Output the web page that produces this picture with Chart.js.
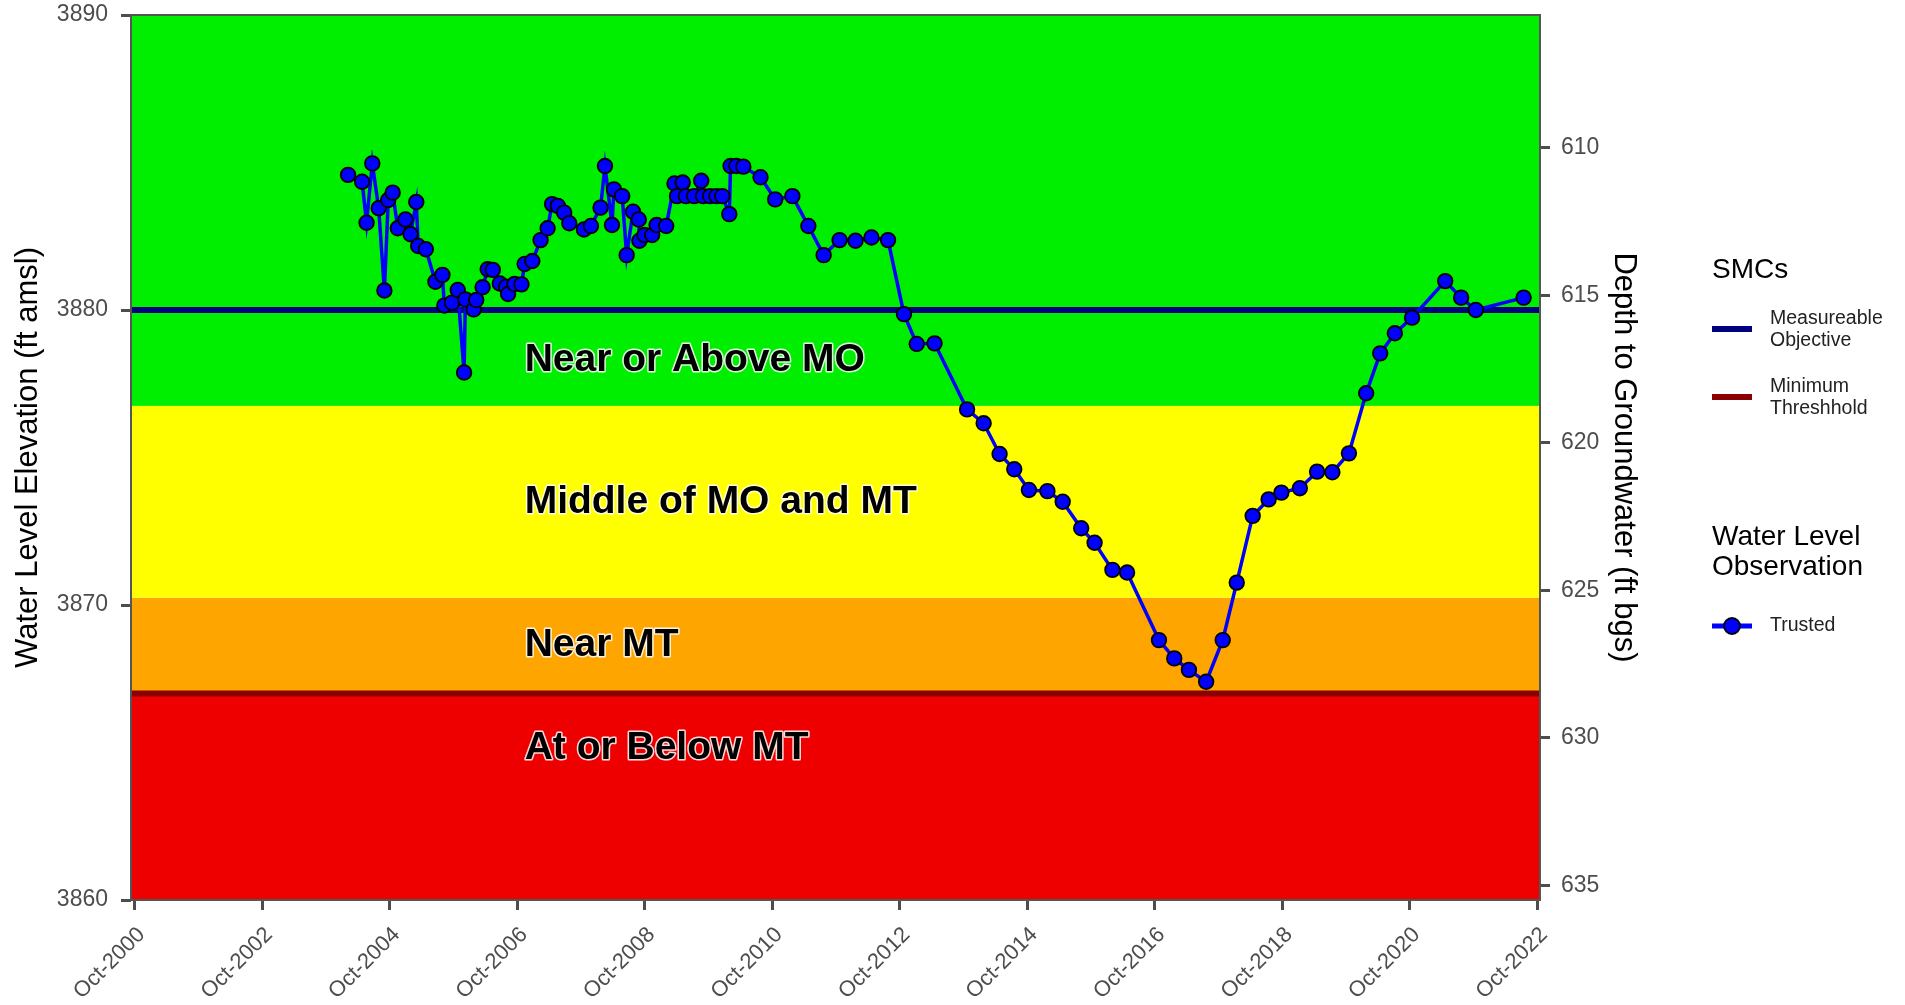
<!DOCTYPE html>
<html>
<head>
<meta charset="utf-8">
<script src="https://cdn.jsdelivr.net/npm/chart.js@4.4.1/dist/chart.umd.min.js"></script>
<style>
  html, body { margin: 0; padding: 0; background: #fff; }
  #wrap { width: 1905px; height: 1005px; }
</style>
</head>
<body>
<div id="wrap"><canvas id="wlChart"></canvas></div>
<script>
// Water level observations (decimal year, ft amsl)
const obsDates = [
  2004.10, 2004.32, 2004.39, 2004.48, 2004.58, 2004.67, 2004.73, 2004.80, 2004.88, 2005.00,
  2005.08, 2005.17, 2005.20, 2005.32, 2005.47, 2005.58, 2005.61, 2005.73, 2005.82, 2005.92,
  2005.94, 2006.07, 2006.11, 2006.21, 2006.29, 2006.37, 2006.48, 2006.58, 2006.61, 2006.71,
  2006.82, 2006.87, 2006.99, 2007.12, 2007.23, 2007.30, 2007.39, 2007.49, 2007.57, 2007.80,
  2007.91, 2008.06, 2008.13, 2008.24, 2008.27, 2008.40, 2008.47, 2008.57, 2008.66, 2008.67,
  2008.75, 2008.87, 2008.94, 2009.09, 2009.22, 2009.26, 2009.35, 2009.40, 2009.53, 2009.64,
  2009.67, 2009.78, 2009.88, 2009.97, 2010.08, 2010.10, 2010.19, 2010.30, 2010.57, 2010.80,
  2011.07, 2011.32, 2011.56, 2011.81, 2012.06, 2012.31, 2012.57, 2012.82, 2013.02, 2013.30,
  2013.81, 2014.07, 2014.32, 2014.55, 2014.78, 2015.07, 2015.31, 2015.60, 2015.81, 2016.09,
  2016.32, 2016.82, 2017.06, 2017.29, 2017.56, 2017.82, 2018.04, 2018.29, 2018.54, 2018.74,
  2019.03, 2019.30, 2019.54, 2019.80, 2020.07, 2020.29, 2020.52, 2020.79, 2021.31, 2021.56,
  2021.79, 2022.54
];
const obsLevels = [
  3884.58, 3884.35, 3882.96, 3884.97, 3883.45, 3880.66, 3883.73, 3883.98, 3882.77, 3883.07,
  3882.57, 3883.66, 3882.17, 3882.06, 3880.96, 3881.19, 3880.15, 3880.25, 3880.68, 3877.88,
  3880.36, 3880.02, 3880.34, 3880.77, 3881.38, 3881.36, 3880.90, 3880.79, 3880.54, 3880.88,
  3880.87, 3881.56, 3881.66, 3882.37, 3882.77, 3883.59, 3883.53, 3883.30, 3882.94, 3882.73,
  3882.85, 3883.47, 3884.88, 3882.88, 3884.09, 3883.86, 3881.86, 3883.33, 3883.07, 3882.35,
  3882.54, 3882.54, 3882.88, 3882.85, 3884.29, 3883.86, 3884.32, 3883.86, 3883.86, 3884.38,
  3883.86, 3883.86, 3883.86, 3883.86, 3883.25, 3884.88, 3884.88, 3884.86, 3884.50, 3883.75,
  3883.86, 3882.85, 3881.86, 3882.37, 3882.35, 3882.46, 3882.37, 3879.86, 3878.85, 3878.87,
  3876.63, 3876.16, 3875.12, 3874.60, 3873.90, 3873.86, 3873.50, 3872.60, 3872.11, 3871.19,
  3871.10, 3868.81, 3868.19, 3867.80, 3867.40, 3868.81, 3870.76, 3873.02, 3873.58, 3873.81,
  3873.96, 3874.52, 3874.50, 3875.14, 3877.18, 3878.53, 3879.21, 3879.74, 3880.98, 3880.42,
  3880.00, 3880.42
];

// sustainable management criteria
const moLevel = 3880;
const mtLevel = 3867;
const groundElev = 4495.5;   // depth to groundwater = groundElev - elevation

// coloured zones, bottom to top
const bandEdges = [3860, 3867, 3870.25, 3876.75, 3890];
const bandColors = ['#EE0000', '#FFA500', '#FFFF00', '#00EE00'];

const zoneLabels = ['Near or Above MO', 'Middle of MO and MT', 'Near MT', 'At or Below MT'];
const zoneLabelLevels = [3878.3, 3873.5, 3868.65, 3865.15];
const zoneLabelDate = 2006.87;

// axes
const xMin = 2000.695, xMax = 2022.797;
const xTickValues = [2000.75, 2002.75, 2004.75, 2006.75, 2008.75, 2010.75, 2012.75, 2014.75, 2016.75, 2018.75, 2020.75, 2022.75];
const yTickValues = [3860, 3870, 3880, 3890];
const depthTickValues = [610, 615, 620, 625, 630, 635];

const FONT = "'Liberation Sans', Arial, sans-serif";
Chart.defaults.font.family = FONT;

const obsPoints = obsDates.map((d, i) => ({ x: d, y: obsLevels[i] }));

const zonesPlugin = {
  id: 'zones',
  beforeDatasetsDraw(chart) {
    const { ctx, chartArea: a, scales: { x, y } } = chart;
    ctx.save();
    for (let i = 0; i < bandColors.length; i++) {
      const yTop = y.getPixelForValue(bandEdges[i + 1]);
      const yBot = y.getPixelForValue(bandEdges[i]);
      ctx.fillStyle = bandColors[i];
      ctx.fillRect(a.left, yTop, a.right - a.left, yBot - yTop);
    }
    ctx.font = 'bold 39px ' + FONT;
    ctx.textBaseline = 'middle';
    ctx.textAlign = 'left';
    ctx.lineJoin = 'round';
    zoneLabels.forEach((t, i) => {
      const px = x.getPixelForValue(zoneLabelDate);
      const py = y.getPixelForValue(zoneLabelLevels[i]);
      ctx.strokeStyle = 'rgba(255,255,255,0.85)';
      ctx.lineWidth = 3;
      ctx.strokeText(t, px, py);
      ctx.fillStyle = '#000';
      ctx.fillText(t, px, py);
    });
    ctx.restore();
  },
  afterDraw(chart) {
    const { ctx, chartArea: a } = chart;
    ctx.save();
    // panel border
    ctx.strokeStyle = '#555';
    ctx.lineWidth = 2;
    ctx.strokeRect(a.left, a.top, a.right - a.left, a.bottom - a.top);

    // legend
    const lx = 1712, tx = 1770;
    ctx.fillStyle = '#000';
    ctx.textAlign = 'left';
    ctx.textBaseline = 'middle';
    ctx.font = '28px ' + FONT;
    ctx.fillText('SMCs', lx, 270);
    ctx.fillText('Water Level', lx, 537);
    ctx.fillText('Observation', lx, 567);

    ctx.lineWidth = 6;
    ctx.strokeStyle = '#000080';
    ctx.beginPath(); ctx.moveTo(lx, 329); ctx.lineTo(lx + 40, 329); ctx.stroke();
    ctx.strokeStyle = '#8B0000';
    ctx.beginPath(); ctx.moveTo(lx, 397); ctx.lineTo(lx + 40, 397); ctx.stroke();
    ctx.strokeStyle = '#0000FF';
    ctx.lineWidth = 5;
    ctx.beginPath(); ctx.moveTo(lx, 626); ctx.lineTo(lx + 40, 626); ctx.stroke();
    ctx.beginPath(); ctx.arc(lx + 20, 626, 8, 0, Math.PI * 2);
    ctx.fillStyle = '#0000FF'; ctx.fill();
    ctx.lineWidth = 1.8; ctx.strokeStyle = '#000'; ctx.stroke();

    ctx.fillStyle = '#222';
    ctx.font = '19.5px ' + FONT;
    ctx.fillText('Measureable', tx, 319);
    ctx.fillText('Objective', tx, 341);
    ctx.fillText('Minimum', tx, 387);
    ctx.fillText('Threshhold', tx, 409);
    ctx.fillText('Trusted', tx, 626);
    ctx.restore();
  }
};

const tickFont = { size: 23 };
const tickColor = '#4d4d4d';

// fixed widths for the vertical axes; drop the label half-height padding so the panel spans the full height
const fitVertical = w => s => { s.width = w; s.paddingTop = 0; s.paddingBottom = 0; };

new Chart(document.getElementById('wlChart'), {
  type: 'line',
  data: {
    datasets: [
      {
        label: 'Trusted',
        data: obsPoints,
        borderColor: '#0000FF',
        borderWidth: 3.5,
        backgroundColor: '#0000FF',
        pointBackgroundColor: '#0000FF',
        pointBorderColor: '#000',
        pointBorderWidth: 1.8,
        pointRadius: 7.3,
        tension: 0,
        order: 0
      },
      {
        label: 'Measureable Objective',
        data: [{ x: xMin, y: moLevel }, { x: xMax, y: moLevel }],
        borderColor: '#000080',
        borderWidth: 6,
        pointRadius: 0,
        order: 1
      },
      {
        label: 'Minimum Threshhold',
        data: [{ x: xMin, y: mtLevel }, { x: xMax, y: mtLevel }],
        borderColor: '#8B0000',
        borderWidth: 6,
        pointRadius: 0,
        order: 1
      }
    ]
  },
  options: {
    responsive: true,
    maintainAspectRatio: false,
    animation: false,
    layout: { padding: { top: 15, right: 260, bottom: 0, left: 0 } },
    plugins: {
      legend: { display: false },
      tooltip: { enabled: false }
    },
    scales: {
      x: {
        type: 'linear',
        min: xMin,
        max: xMax,
        afterBuildTicks: s => { s.ticks = xTickValues.map(v => ({ value: v })); },
        afterFit: s => { s.height = 105; },
        grid: { drawOnChartArea: false, drawTicks: true, tickLength: 10, tickWidth: 3, tickColor: '#4d4d4d' },
        border: { display: false },
        ticks: {
          autoSkip: false,
          minRotation: 45,
          maxRotation: 45,
          padding: 12,
          labelOffset: 7,
          color: tickColor,
          font: { size: 22 },
          callback: v => 'Oct-' + Math.round(v - 0.75)
        }
      },
      y: {
        type: 'linear',
        position: 'left',
        min: 3860,
        max: 3890,
        afterBuildTicks: s => { s.ticks = yTickValues.map(v => ({ value: v })); },
        afterFit: fitVertical(131),
        grid: { drawOnChartArea: false, drawTicks: true, tickLength: 10, tickWidth: 3, tickColor: '#4d4d4d' },
        border: { display: false },
        ticks: { padding: 13, color: tickColor, font: tickFont, callback: v => String(v) },
        title: {
          display: true,
          text: 'Water Level Elevation (ft amsl)',
          color: '#000',
          font: { size: 31 },
          padding: { top: 10, bottom: 0 }
        }
      },
      y2: {
        type: 'linear',
        position: 'right',
        reverse: true,
        min: groundElev - 3890,
        max: groundElev - 3860,
        afterBuildTicks: s => { s.ticks = depthTickValues.map(v => ({ value: v })); },
        afterFit: fitVertical(105),
        grid: { drawOnChartArea: false, drawTicks: true, tickLength: 10, tickWidth: 3, tickColor: '#4d4d4d' },
        border: { display: false },
        ticks: { padding: 11, color: tickColor, font: tickFont, callback: v => String(v) },
        title: {
          display: true,
          text: 'Depth to Groundwater (ft bgs)',
          color: '#000',
          font: { size: 31 },
          padding: { top: 3, bottom: 0 }
        }
      }
    }
  },
  plugins: [zonesPlugin]
});
</script>
</body>
</html>
